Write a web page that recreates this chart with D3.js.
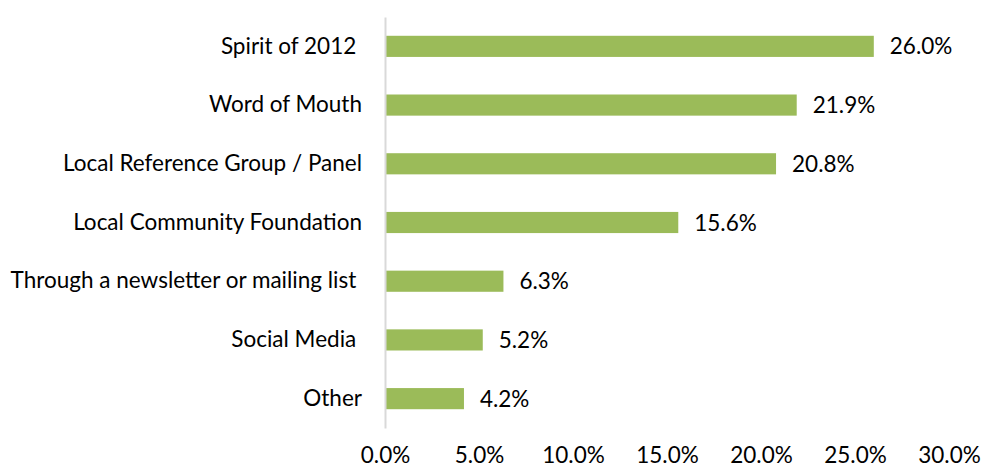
<!DOCTYPE html>
<html>
<head>
<meta charset="utf-8">
<script src="https://cdn.jsdelivr.net/npm/d3@7"></script>
<style>
  body { margin: 0; background: #fff; }
  text { font-family: Lato, "Liberation Sans", sans-serif; fill: #000; white-space: pre; }
</style>
</head>
<body>
<div class="bar-chart"></div>
<script>
(function() {
var categories = ['Spirit of 2012 ', 'Word of Mouth', 'Local Reference Group / Panel', 'Local Community Foundation',
    'Through a newsletter or mailing list ', 'Social Media ', 'Other'];
var values = [26.0, 21.9, 20.8, 15.6, 6.3, 5.2, 4.2];
var ticks = [0, 5, 10, 15, 20, 25, 30];

var W = 982, H = 468,
    margin = {top: 17, right: 33, bottom: 40, left: 385},
    width = W - margin.left - margin.right,
    height = H - margin.top - margin.bottom,
    fs = "22.5px";

var svg = d3.select(".bar-chart").append("svg")
    .attr("width", W)
    .attr("height", H);

var x = d3.scaleLinear().domain([0, 30]).range([0, width]);
var y = d3.scaleBand().domain(categories).range([0, height])
    .paddingInner(0.64).paddingOuter(0.32);

var g = svg.append("g")
    .attr("transform", "translate(" + margin.left + "," + margin.top + ")");

var data = categories.map(function(c, i) { return {key: c, value: values[i]}; });

g.selectAll(".bar")
    .data(data)
    .enter().append("rect")
    .attr("class", "bar")
    .attr("x", 0)
    .attr("y", function(d) { return y(d.key); })
    .attr("height", y.bandwidth())
    .attr("width", function(d) { return x(d.value); })
    .style("fill", "#9bbb59");

// value labels
g.selectAll(".val")
    .data(data)
    .enter().append("text")
    .attr("class", "val")
    .attr("x", function(d) { return x(d.value) + 16; })
    .attr("y", function(d) { return y(d.key) + y.bandwidth() / 2; })
    .attr("dy", "0.36em")
    .style("font-size", fs)
    .text(function(d) { return d.value.toFixed(1) + "%"; });

// y axis: line + labels
var yAxis = d3.axisLeft(y).tickSize(0).tickPadding(23);
var ya = g.append("g").attr("class", "axis axis--y").call(yAxis);
ya.select(".domain").attr("stroke", "#d9d9d9").attr("stroke-width", 2);
ya.selectAll("text")
    .style("font-size", fs)
    .style("font-family", "Lato, sans-serif")
    .attr("fill", "#000");

// x axis: labels only
var xAxis = d3.axisBottom(x).tickValues(ticks).tickSize(0).tickPadding(19)
    .tickFormat(function(d) { return d.toFixed(1) + "%"; });
var xa = g.append("g").attr("class", "axis axis--x")
    .attr("transform", "translate(0," + height + ")")
    .call(xAxis);
xa.select(".domain").remove();
xa.selectAll("text")
    .style("font-size", fs)
    .style("font-family", "Lato, sans-serif")
    .attr("fill", "#000");
}())
</script>
</body>
</html>
